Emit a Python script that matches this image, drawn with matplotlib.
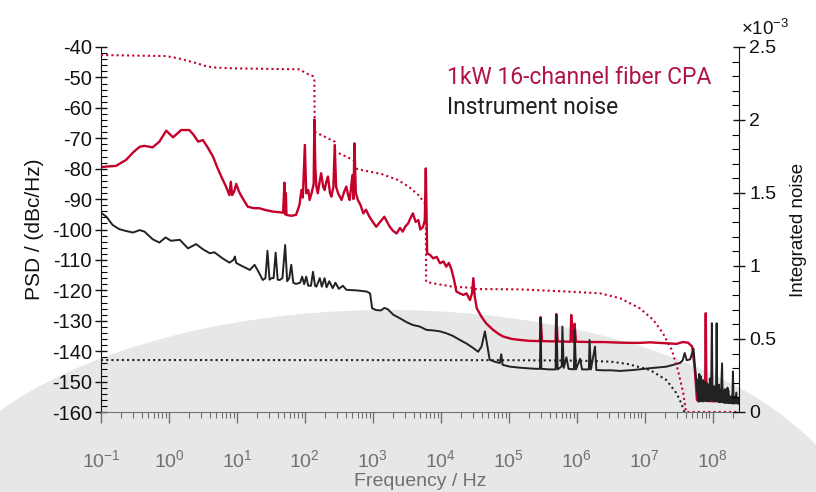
import numpy as np
import matplotlib
matplotlib.use('Agg')
import matplotlib.pyplot as plt
from matplotlib.patches import Ellipse
from matplotlib.ticker import MultipleLocator, FuncFormatter, LogLocator

plt.rcParams['font.family'] = ['Liberation Sans', 'DejaVu Sans']
plt.rcParams['mathtext.default'] = 'regular'
plt.rcParams['axes.unicode_minus'] = False

# ---- data: (log10 of frequency in Hz, value) ----
cpa_psd = [(-1.0, -79.5), (-0.92, -79.3), (-0.78, -79.1), (-0.63, -77.1), (-0.52, -74.5), (-0.43, -72.8),
           (-0.36, -72.5), (-0.24, -73.0), (-0.14, -71.1), (-0.04, -67.5), (0.06, -69.7), (0.18, -67.3),
           (0.30, -67.3), (0.36, -68.8), (0.43, -71.1), (0.50, -70.6), (0.57, -73.0), (0.65, -76.1),
           (0.70, -79.0), (0.77, -82.6), (0.84, -85.9), (0.89, -88.7), (0.91, -84.3), (0.93, -88.7),
           (0.96, -87.5), (0.99, -85.0), (1.03, -87.5), (1.07, -89.2), (1.16, -92.5), (1.25, -93.0),
           (1.33, -93.0), (1.42, -93.6), (1.53, -94.1), (1.62, -94.3), (1.68, -94.5), (1.70, -84.6),
           (1.71, -95.0), (1.72, -88.0), (1.73, -95.2), (1.80, -95.5), (1.87, -95.2), (1.92, -92.0),
           (1.95, -87.0), (1.97, -89.5), (2.00, -72.2), (2.02, -88.1), (2.05, -87.0), (2.07, -90.3),
           (2.10, -88.0), (2.13, -85.0), (2.14, -63.8), (2.155, -80.0), (2.17, -85.9), (2.19, -88.1),
           (2.22, -84.0), (2.24, -81.5), (2.27, -86.0), (2.29, -87.0), (2.32, -84.0), (2.34, -82.6),
           (2.37, -88.0), (2.39, -89.2), (2.42, -86.0), (2.44, -72.2), (2.46, -86.0), (2.49, -88.1),
           (2.54, -90.3), (2.58, -87.5), (2.61, -85.9), (2.64, -89.0), (2.66, -90.3), (2.70, -82.1),
           (2.715, -90.0), (2.73, -71.7), (2.75, -88.0), (2.78, -90.3), (2.82, -92.0), (2.86, -94.7),
           (2.90, -93.5), (2.95, -95.8), (3.00, -97.5), (3.05, -99.1), (3.09, -98.0), (3.13, -96.9),
           (3.17, -95.8), (3.21, -97.5), (3.25, -99.1), (3.30, -100.5), (3.35, -101.3), (3.40, -99.5),
           (3.44, -100.7), (3.48, -99.0), (3.52, -98.0), (3.56, -96.0), (3.59, -94.7), (3.63, -97.5),
           (3.67, -96.9), (3.70, -100.0), (3.74, -99.1), (3.765, -97.0), (3.78, -79.9), (3.795, -100.0),
           (3.80, -107.8), (3.85, -108.5), (3.89, -109.5), (3.94, -109.0), (3.99, -111.1), (4.04, -110.5),
           (4.08, -112.2), (4.12, -111.0), (4.16, -113.3), (4.20, -117.0), (4.23, -120.4), (4.28, -121.0),
           (4.33, -121.5), (4.38, -121.0), (4.43, -123.2), (4.46, -121.0), (4.48, -116.0), (4.50, -122.0),
           (4.53, -125.9), (4.60, -128.7), (4.67, -130.9), (4.77, -133.0), (4.85, -134.3), (4.92, -135.2),
           (5.05, -136.0), (5.16, -136.3), (5.30, -136.6), (5.46, -136.7), (5.47, -128.8), (5.49, -136.7),
           (5.69, -136.8), (5.70, -127.8), (5.72, -136.8), (5.91, -136.9), (5.92, -128.1), (5.94, -136.9),
           (5.96, -136.9), (5.97, -131.0), (5.99, -136.9), (6.20, -137.0), (6.40, -137.0), (6.64, -137.2),
           (6.90, -137.3), (7.08, -137.1), (7.30, -137.4), (7.47, -137.6), (7.56, -137.0), (7.64, -137.2),
           (7.70, -138.5), (7.74, -146.2), (7.77, -156.0), (7.79, -156.3), (7.84, -156.0), (7.89, -156.2),
           (7.90, -127.5), (7.91, -156.2), (8.00, -156.5), (8.10, -156.3), (8.22, -156.6), (8.23, -152.9),
           (8.24, -156.8), (8.30, -156.9), (8.39, -157.0)]

inst_psd = [(-1.0, -94.5), (-0.92, -95.8), (-0.83, -98.5), (-0.73, -99.9), (-0.63, -100.5), (-0.53, -101.0),
            (-0.43, -100.2), (-0.36, -100.7), (-0.24, -103.2), (-0.14, -104.3), (-0.05, -102.6),
            (0.03, -103.7), (0.16, -103.4), (0.28, -106.2), (0.40, -104.8), (0.50, -106.5), (0.60, -107.8),
            (0.67, -107.5), (0.79, -109.5), (0.89, -110.9), (0.95, -110.0), (0.97, -108.9), (0.99, -111.0),
            (1.04, -111.6), (1.12, -112.5), (1.19, -113.3), (1.26, -111.6), (1.32, -114.0), (1.38, -116.6),
            (1.42, -116.0), (1.45, -107.0), (1.48, -116.5), (1.51, -116.0), (1.54, -116.0), (1.57, -107.6),
            (1.60, -116.5), (1.63, -116.6), (1.67, -116.0), (1.71, -105.1), (1.74, -117.0), (1.77, -116.0),
            (1.80, -111.6), (1.83, -117.5), (1.87, -117.9), (1.93, -117.5), (1.96, -115.5), (1.99, -118.0),
            (2.02, -115.5), (2.05, -118.5), (2.09, -118.5), (2.12, -113.9), (2.15, -118.5), (2.17, -118.8),
            (2.22, -116.0), (2.25, -118.8), (2.29, -116.0), (2.32, -119.0), (2.36, -117.0), (2.41, -119.3),
            (2.45, -117.5), (2.50, -119.5), (2.56, -118.5), (2.61, -119.8), (2.66, -119.9), (2.75, -120.0),
            (2.84, -120.2), (2.91, -120.4), (2.96, -121.0), (2.99, -125.9), (3.05, -126.5), (3.12, -126.6),
            (3.17, -125.8), (3.22, -126.2), (3.30, -128.0), (3.40, -129.2), (3.50, -130.5), (3.59, -131.4),
            (3.69, -131.9), (3.79, -133.0), (3.90, -133.2), (3.99, -133.5), (4.08, -134.1), (4.18, -135.0),
            (4.28, -136.3), (4.38, -137.5), (4.48, -139.0), (4.55, -140.2), (4.60, -138.5), (4.65, -133.5),
            (4.68, -137.5), (4.72, -142.8), (4.80, -143.5), (4.87, -143.9), (4.89, -141.0), (4.91, -144.5),
            (5.02, -145.1), (5.15, -145.4), (5.26, -145.6), (5.40, -145.8), (5.46, -145.8), (5.47, -129.2),
            (5.48, -145.8), (5.60, -146.0), (5.69, -146.0), (5.70, -128.1), (5.72, -146.0), (5.78, -145.0),
            (5.79, -131.9), (5.81, -145.5), (5.85, -142.0), (5.88, -145.8), (5.96, -146.0), (5.97, -133.0),
            (5.99, -146.0), (6.05, -142.5), (6.08, -146.0), (6.18, -146.0), (6.19, -136.3), (6.21, -146.0),
            (6.27, -138.5), (6.29, -146.2), (6.40, -146.3), (6.50, -146.3), (6.64, -146.5), (6.83, -146.2),
            (7.08, -145.6), (7.32, -145.1), (7.45, -144.3), (7.52, -143.9), (7.56, -143.0), (7.59, -140.6),
            (7.62, -143.0), (7.67, -142.7), (7.72, -139.2), (7.745, -146.0), (7.77, -152.0), (7.79, -156.6),
            (7.795, -149.0), (7.80, -156.0), (7.805, -147.5), (7.81, -156.5), (7.82, -150.0), (7.825, -156.0),
            (7.83, -148.3), (7.84, -156.5), (7.845, -151.0), (7.85, -156.0), (7.86, -149.5), (7.865, -156.5),
            (7.875, -151.0), (7.88, -156.2), (7.89, -150.0), (7.895, -156.0), (7.905, -152.0), (7.91, -156.5),
            (7.92, -150.5), (7.925, -156.2), (7.935, -152.5), (7.94, -156.5), (7.95, -151.0), (7.955, -156.3),
            (7.96, -149.0), (7.97, -156.2), (7.98, -152.0), (7.99, -130.8), (8.00, -156.0), (8.01, -152.0),
            (8.015, -156.3), (8.025, -151.5), (8.03, -156.5), (8.04, -153.0), (8.05, -156.5), (8.06, -130.8),
            (8.07, -156.5), (8.08, -152.5), (8.085, -156.6), (8.095, -151.0), (8.10, -156.8), (8.11, -153.0),
            (8.12, -156.8), (8.14, -144.0), (8.15, -156.8), (8.16, -153.5), (8.17, -157.0), (8.18, -152.5),
            (8.19, -157.0), (8.20, -154.0), (8.21, -157.0), (8.22, -152.0), (8.23, -157.0), (8.24, -154.5),
            (8.25, -157.1), (8.26, -155.0), (8.27, -157.1), (8.28, -154.8), (8.29, -157.2), (8.30, -146.7),
            (8.31, -157.2), (8.32, -155.2), (8.33, -157.2), (8.35, -153.6), (8.36, -157.2), (8.37, -155.5),
            (8.38, -157.3), (8.39, -156.5)]

# integrated noise (right axis)
cpa_int = [(-1.0, 2.445e-3), (-0.04, 2.438e-3), (0.16, 2.42e-3), (0.28, 2.405e-3), (0.40, 2.39e-3),
           (0.52, 2.372e-3), (0.65, 2.36e-3), (0.94, 2.354e-3), (1.5, 2.35e-3), (1.92, 2.347e-3),
           (2.02, 2.32e-3), (2.12, 2.30e-3), (2.14, 2.28e-3), (2.145, 1.92e-3), (2.19, 1.909e-3),
           (2.44, 1.851e-3), (2.445, 1.783e-3), (2.56, 1.76e-3), (2.71, 1.726e-3), (2.73, 1.72e-3),
           (2.735, 1.669e-3), (2.88, 1.653e-3), (3.13, 1.63e-3), (3.37, 1.589e-3), (3.54, 1.539e-3),
           (3.67, 1.486e-3), (3.76, 1.434e-3), (3.78, 1.42e-3), (3.785, 0.892e-3), (3.89, 0.881e-3),
           (4.18, 0.858e-3), (4.48, 0.85e-3), (4.485, 0.842e-3), (5.16, 0.84e-3), (5.90, 0.824e-3),
           (6.34, 0.813e-3), (6.64, 0.779e-3), (6.93, 0.71e-3), (7.13, 0.63e-3), (7.27, 0.539e-3),
           (7.40, 0.425e-3), (7.49, 0.288e-3), (7.57, 0.128e-3), (7.61, 0.0), (8.39, 0.0)]

inst_int = [(-1.0, 0.356e-3), (5.0, 0.355e-3), (6.0, 0.352e-3), (6.5, 0.345e-3), (6.75, 0.329e-3),
            (7.08, 0.288e-3), (7.32, 0.219e-3), (7.47, 0.128e-3), (7.55, 0.05e-3), (7.57, 0.014e-3),
            (7.59, 0.0)]

red = '#c4002b'
dark = '#222222'
grey = '#707070'


def split(pairs):
    arr = np.array(pairs)
    return 10 ** arr[:, 0], arr[:, 1]


fig = plt.figure(figsize=(8.16, 4.92), dpi=100)

# decorative background dome
dome = Ellipse((388 / 816, 1 - 548 / 492), 950 / 816, 476 / 492,
               transform=fig.transFigure, facecolor='#e7e7e7', edgecolor='none', zorder=-5)
fig.add_artist(dome)

ax = fig.add_axes([101 / 816, 1 - 412 / 492, 638 / 816, 365 / 492])
ax.set_facecolor('none')

ax.plot(*split(cpa_psd), color=red, lw=1.7)
ax.plot(*split(inst_psd), color=dark, lw=1.4)

ax.set_xscale('log')
ax.set_xlim(0.1, 2.45e8)
ax.set_ylim(-160, -40)
ax.yaxis.set_major_locator(MultipleLocator(10))
ax.yaxis.set_minor_locator(MultipleLocator(2))
ax.xaxis.set_major_locator(LogLocator(base=10, numticks=20))
ax.xaxis.set_minor_locator(LogLocator(base=10, subs=np.arange(2, 10), numticks=20))

ax.tick_params(axis='y', which='major', direction='inout', length=9, width=1, labelsize=14.5,
               colors='#111111', pad=2)
ax.tick_params(axis='y', which='minor', direction='in', length=4, width=0.8)
ax.tick_params(axis='x', which='major', direction='out', length=8, width=1, labelsize=14,
               colors=grey, pad=19)
ax.tick_params(axis='x', which='minor', direction='out', length=4, width=0.8, colors=grey)

ax.spines['top'].set_visible(False)
ax.spines['right'].set_visible(False)
ax.spines['bottom'].set_color(grey)
ax.spines['left'].set_color('#111111')

ax.set_ylabel('PSD / (dBc/Hz)', fontsize=15, color='#111111', labelpad=6)
ax.set_xlabel('Frequency / Hz', fontsize=14, color=grey, labelpad=1)

ax2 = ax.twinx()
ax2.plot(*split(cpa_int), color=red, lw=1.5, ls=(0, (1, 1.5)))
ax2.plot(*split(inst_int), color=dark, lw=1.5, ls=(0, (1, 1.5)))
ax2.set_ylim(0, 2.5e-3)
ax2.yaxis.set_major_locator(MultipleLocator(0.5e-3))
ax2.yaxis.set_minor_locator(MultipleLocator(0.1e-3))
ax2.yaxis.set_major_formatter(FuncFormatter(lambda v, _: f'{v * 1e3:g}'))
ax2.tick_params(axis='y', which='major', direction='inout', length=9, width=1, labelsize=14,
                colors='#111111', pad=3)
ax2.tick_params(axis='y', which='minor', direction='in', length=5, width=0.8)
for s in ['top', 'left', 'bottom']:
    ax2.spines[s].set_visible(False)
ax2.spines['right'].set_color('#111111')
ax2.set_ylabel('Integrated noise', fontsize=13.5, color='#111111', labelpad=10)
fig.text(741 / 816, 1 - 29 / 492, r'$\times10^{-3}$', fontsize=13.5, color='#111111',
         ha='left', va='center')

fig.text(447 / 816, 1 - 77 / 492, '1kW 16-channel fiber CPA', color='#b01444', fontsize=16.5,
         family='Roboto', va='center', ha='left')
fig.text(447 / 816, 1 - 107 / 492, 'Instrument noise', color='#1e1e1e', fontsize=16.5,
         family='Roboto', va='center', ha='left')

fig.savefig('out.png', dpi=100)
